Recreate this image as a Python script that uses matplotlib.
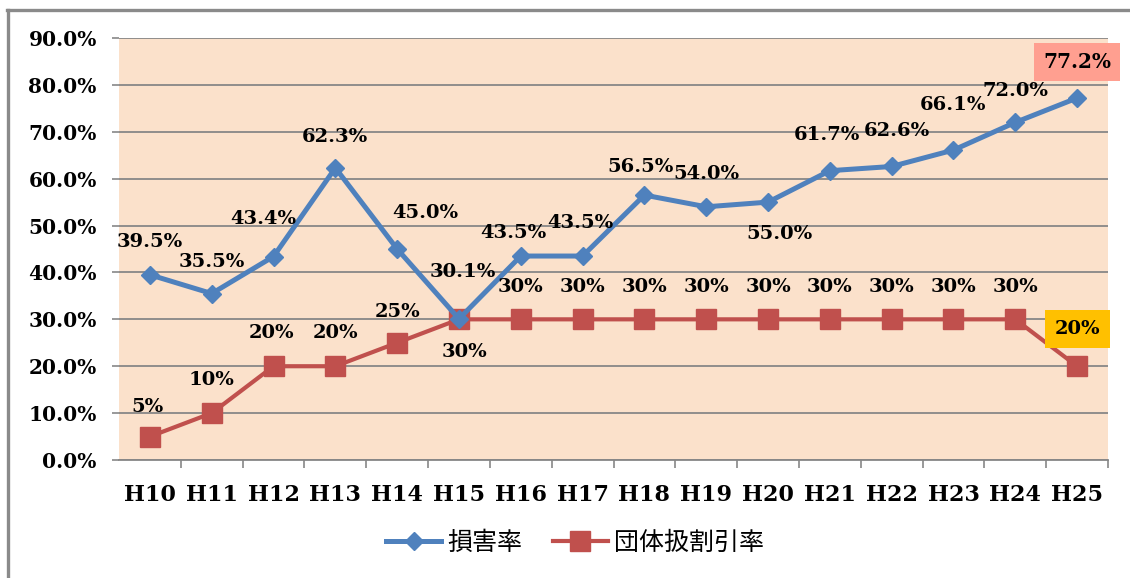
import matplotlib
matplotlib.use("Agg")
import matplotlib.pyplot as plt
from matplotlib.lines import Line2D
from matplotlib.ticker import FixedLocator, FuncFormatter

categories = ["H10", "H11", "H12", "H13", "H14", "H15", "H16", "H17",
              "H18", "H19", "H20", "H21", "H22", "H23", "H24", "H25"]
loss_ratio = [39.5, 35.5, 43.4, 62.3, 45.0, 30.1, 43.5, 43.5,
              56.5, 54.0, 55.0, 61.7, 62.6, 66.1, 72.0, 77.2]
discount_rate = [5, 10, 20, 20, 25, 30, 30, 30, 30, 30, 30, 30, 30, 30, 30, 20]
loss_labels = ["39.5%", "35.5%", "43.4%", "62.3%", "45.0%", "30.1%", "43.5%", "43.5%",
               "56.5%", "54.0%", "55.0%", "61.7%", "62.6%", "66.1%", "72.0%", "77.2%"]
discount_labels = ["5%", "10%", "20%", "20%", "25%", "30%", "30%", "30%",
                   "30%", "30%", "30%", "30%", "30%", "30%", "30%", "20%"]
series_names = ["損害率", "団体扱割引率"]
y_ticks = [0, 10, 20, 30, 40, 50, 60, 70, 80, 90]

# label offsets in pixels (layout)
loss_off = [(0, 33), (0, 32), (-10, 38), (0, 31), (28, 36), (4, 47), (-7, 23), (-2, 33),
            (-4, 28), (0, 33), (11, -32), (-3, 36), (5, 35), (0, 45), (0, 31), (0, 36)]
disc_off = [(-2, 30), (0, 33), (-2, 33), (0, 33), (0, 31), (6, -33)] + [(0, 32)] * 9 + [(0, 37)]

BLUE = "#4F81BD"
RED = "#C0504D"
BG = "#FBE1CB"
GRID = "#878787"
LABEL_FONT = "DejaVu Serif"

W, H = 1130, 578
fig = plt.figure(figsize=(W / 100, H / 100), dpi=100)
fig.patch.set_facecolor("white")
ax = fig.add_axes([119 / W, 1 - 460 / H, (1108 - 119) / W, (460 - 38) / H])
ax.set_facecolor(BG)

x = list(range(len(categories)))
ax.plot(x, loss_ratio, color=BLUE, lw=3.6, marker="D", markersize=9.5,
        markerfacecolor=BLUE, markeredgecolor=BLUE, label=series_names[0], zorder=4)
ax.plot(x, discount_rate, color=RED, lw=3.0, marker="s", markersize=14,
        markerfacecolor=RED, markeredgecolor=RED, label=series_names[1], zorder=3)

ax.set_xlim(-0.5, len(categories) - 0.5)
ax.set_ylim(0, 90)

ax.yaxis.set_major_locator(FixedLocator(y_ticks))
ax.yaxis.set_major_formatter(FuncFormatter(lambda v, p: f"{v:.1f}%"))
ax.grid(axis="y", color=GRID, lw=1.3, zorder=1)
ax.set_axisbelow(True)
ax.tick_params(axis="y", length=5, width=1.2, color=GRID, pad=11,
               labelsize=14.5, labelcolor="black")
for t in ax.get_yticklabels():
    t.set_fontfamily(LABEL_FONT)
    t.set_fontweight("bold")

ax.set_xticks(x)
ax.set_xticklabels(categories, fontfamily=LABEL_FONT, fontweight="bold", fontsize=16)
ax.set_xticks([i + 0.5 for i in x], minor=True)
ax.tick_params(axis="x", which="major", length=0, pad=17)
ax.tick_params(axis="x", which="minor", length=6, width=1.2, color=GRID)

for s in ["left", "right", "top"]:
    ax.spines[s].set_visible(False)
ax.spines["bottom"].set_color(GRID)
ax.spines["bottom"].set_linewidth(1.3)

for i, (v, lab) in enumerate(zip(loss_ratio, loss_labels)):
    kw = {}
    fs = 14
    if i == len(loss_ratio) - 1:
        kw["bbox"] = dict(boxstyle="square,pad=0.45", facecolor="#FF9F90", edgecolor="none")
        fs = 14.5
    ax.annotate(lab, (i, v), xytext=loss_off[i], textcoords="offset pixels",
                ha="center", va="center", fontsize=fs, fontweight="bold",
                fontfamily=LABEL_FONT, color="black", zorder=6, annotation_clip=False, **kw)
for i, (v, lab) in enumerate(zip(discount_rate, discount_labels)):
    kw = {}
    if i == len(discount_rate) - 1:
        kw["bbox"] = dict(boxstyle="square,pad=0.5", facecolor="#FFC000", edgecolor="none")
    ax.annotate(lab, (i, v), xytext=disc_off[i], textcoords="offset pixels",
                ha="center", va="center", fontsize=14, fontweight="bold",
                fontfamily=LABEL_FONT, color="black", zorder=6, annotation_clip=False, **kw)

leg = fig.legend(loc="center", bbox_to_anchor=(575 / W, 1 - 543 / H), ncol=2,
                 frameon=False, handlelength=2.2, handletextpad=0.25, columnspacing=1.2,
                 prop={"family": ["Noto Sans CJK JP", "DejaVu Sans"], "size": 18})

# figure border (only top and left visible)
fig.add_artist(Line2D([7.5 / W, 7.5 / W], [0, 1 - 10 / H], color="#8A8A8A", lw=2.4,
                      transform=fig.transFigure))
fig.add_artist(Line2D([6.5 / W, 1], [1 - 10 / H, 1 - 10 / H], color="#8A8A8A", lw=2.4,
                      transform=fig.transFigure))

fig.savefig("out.png", dpi=100)
